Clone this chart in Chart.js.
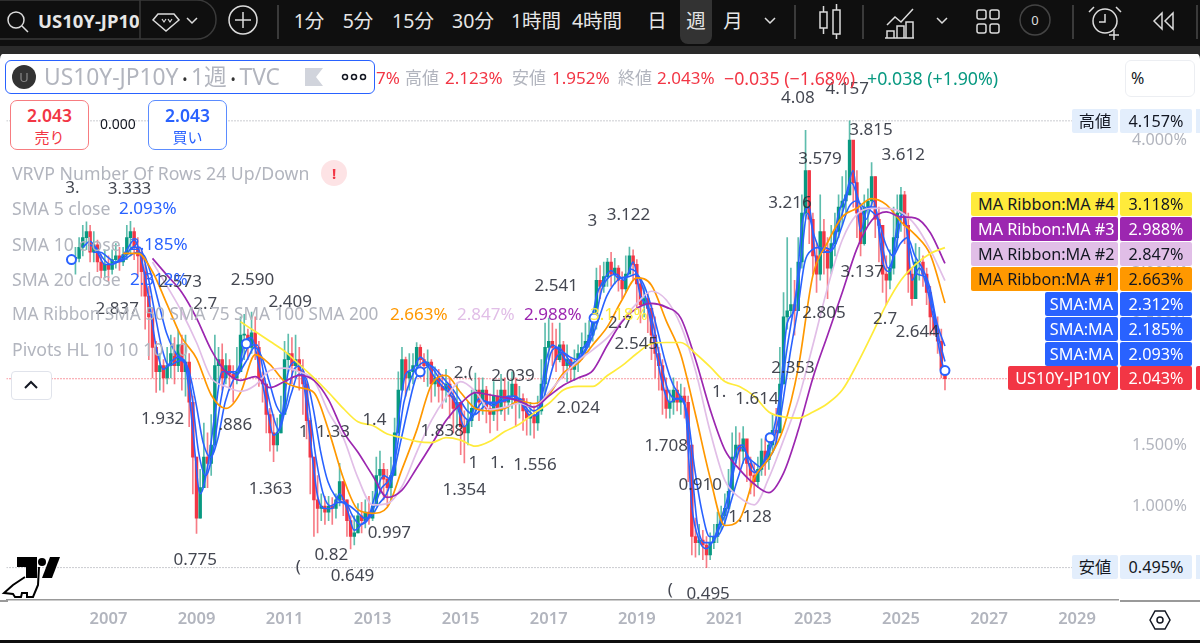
<!DOCTYPE html>
<html lang="ja"><head><meta charset="utf-8">
<script src="https://cdn.jsdelivr.net/npm/chart.js@4"></script>
<style>
html,body{margin:0;padding:0;width:1200px;height:643px;overflow:hidden;background:#fff;font-family:"Noto Sans","Noto Sans CJK JP",sans-serif}
#c{position:absolute;left:0;top:0;width:1200px;height:643px}
.a{position:absolute;white-space:nowrap}
.tb{color:#e6e6e6;font-size:19.5px;top:8px;line-height:26px;transform:translateX(-50%)}
.lg{color:#b2b5be;font-size:17.7px;line-height:22px;left:12px}
.v{font-size:17px;line-height:22px}
.o{font-size:17px;line-height:22px;top:67px}
.row{height:24px;line-height:24px;font-size:16.2px;border-radius:2px;overflow:hidden}
svg{position:absolute;overflow:visible}
</style></head><body>
<canvas id="c" width="1200" height="643"></canvas>

<div class="a" style="left:0;top:0;width:1200px;height:46px;background:#0f0f0f"></div>
<div class="a" style="left:0;top:46px;width:1200px;height:8px;background:#2a2a2a"></div>
<svg style="left:0;top:53px" width="1200" height="6"><path d="M0 0H6Q0 0 0 6ZM1200 0H1194Q1200 0 1200 6Z" fill="#2a2a2a"/></svg>
<div class="a" style="left:0;top:640px;width:1200px;height:3px;background:#0f0f0f"></div>
<div class="a" style="left:1120px;top:600px;width:80px;height:1.5px;background:#999"></div>
<div class="a" style="left:0;top:600px;width:8px;height:1.5px;background:#999"></div>

<svg style="left:0;top:0" width="1200" height="46" fill="none" stroke="#dcdcdc" stroke-width="1.5">
<rect x="-20" y="0" width="236" height="39" rx="19" stroke="#3a3a3a"/>
<line x1="140" y1="0" x2="140" y2="39" stroke="#3a3a3a"/>
<circle cx="16" cy="20" r="8"/><line x1="22" y1="26" x2="28" y2="32"/>
<path d="M158 14h16l5 6-13 11-13-11z"/><path d="M162 19l2 3 2-3M168 19l2 3 2-3" stroke-width="1.2"/>
<path d="M187 18l5 5 5-5"/>
<circle cx="243" cy="20" r="14"/><path d="M243 12v16M235 20h16"/>
<path d="M278 5v34M795 5v34M863 5v34M1073 5v34M1197 5v34" stroke="#4a4a4a"/>
<path d="M765 18l5 5 5-5M937 18l5 5 5-5"/>
<rect x="820" y="12" width="7" height="16"/><rect x="833" y="10" width="7" height="24"/><path d="M823.500 6v6M823.500 28v6M836.500 4v6M836.500 34v5"/>
<path d="M887 25l8-8 6 5 12-13M887 38v-7h7v7M897 38v-12h7v12M906 38v-16h7v16M885 38h29"/>
<rect x="977" y="10" width="9" height="9" rx="2"/><rect x="990" y="10" width="9" height="9" rx="2"/><rect x="977" y="24" width="9" height="9" rx="2"/><rect x="990" y="24" width="9" height="9" rx="2"/>
<circle cx="1035" cy="20" r="15" stroke="#444"/>
<circle cx="1105" cy="21" r="12"/><path d="M1105 14v8h-6M1094 7l-5 5M1116 7l5 5M1114 30v10M1109 35h10"/>
<path d="M1162 13l-8 8 8 8zM1173 13l-8 8 8 8z"/>
</svg>
<div class="a" style="left:38px;top:8px;font-size:18.5px;line-height:26px;font-weight:700;color:#e6e6e6;width:101px;overflow:hidden">US10Y-JP10Y</div>
<div class="a" style="left:680px;top:0;width:32px;height:44px;background:#333;border-radius:0 0 8px 8px"></div>
<div class="a tb" style="left:309px">1分</div><div class="a tb" style="left:358px">5分</div><div class="a tb" style="left:413px">15分</div><div class="a tb" style="left:473px">30分</div><div class="a tb" style="left:536px">1時間</div><div class="a tb" style="left:597px">4時間</div><div class="a tb" style="left:657px">日</div><div class="a tb" style="left:696px">週</div><div class="a tb" style="left:733px">月</div>
<div class="a" style="left:1028px;top:11px;width:14px;text-align:center;color:#ddd;font-size:13px;line-height:18px">0</div>

<div class="a" style="left:5px;top:60px;width:368px;height:32px;border:1px solid #2962ff;border-radius:6px;background:#fff"></div>
<div class="a" style="left:12px;top:65px;width:24px;height:24px;border-radius:50%;background:#333;color:#888;font-size:13px;line-height:24px;text-align:center">U</div>
<div class="a" style="left:44px;top:62px;font-size:22.8px;line-height:30px;color:#b2b5be">US10Y-JP10Y<span style="color:#333;font-size:14px"> • </span>1週<span style="color:#333;font-size:14px"> • </span>TVC</div>
<svg style="left:305px;top:68px" width="18" height="18"><path d="M0 0H18L11 9L18 18H0Z" fill="#d1d4dc"/></svg>
<svg style="left:342px;top:73px" width="24" height="8" fill="none" stroke="#131722" stroke-width="1.5"><circle cx="3" cy="4" r="2.500"/><circle cx="12" cy="4" r="2.500"/><circle cx="21" cy="4" r="2.500"/></svg>

<div class="a o" style="left:376px;color:#f23645">7%</div>
<div class="a o" style="left:405px;color:#b2b5be">高値</div><div class="a o" style="left:445px;color:#f23645">2.123%</div>
<div class="a o" style="left:512px;color:#b2b5be">安値</div><div class="a o" style="left:552px;color:#f23645">1.952%</div>
<div class="a o" style="left:618px;color:#b2b5be">終値</div><div class="a o" style="left:657px;color:#f23645">2.043%</div>
<div class="a o" style="left:724px;color:#f23645;font-size:17.8px">−0.035 (−1.68%)</div>
<div class="a o" style="left:867px;color:#089981;font-size:17.8px">+0.038 (+1.90%)</div>
<div class="a" style="left:1125px;top:60px;width:68px;height:35px;border:1px solid #eceef2;border-radius:6px;background:#fff;color:#131722;font-size:16px;line-height:35px;text-indent:5px">%</div>

<div class="a" style="left:10px;top:100px;width:77px;border:1px solid #f77c80;border-radius:7px;background:#fff;color:#f23645;text-align:center;font-size:17.5px;line-height:21px;padding-top:4px;height:44px"><b style="font-weight:600">2.043</b><br><span style="font-size:15px">売り</span></div>
<div class="a" style="left:100px;top:114px;font-size:14px;line-height:20px;color:#131722">0.000</div>
<div class="a" style="left:148px;top:100px;width:77px;border:1px solid #5b8cff;border-radius:7px;background:#fff;color:#2962ff;text-align:center;font-size:17.5px;line-height:21px;padding-top:4px;height:44px"><b style="font-weight:600">2.043</b><br><span style="font-size:15px">買い</span></div>

<div class="a lg" style="top:162px">VRVP Number Of Rows 24 Up/Down</div>
<div class="a" style="left:321px;top:160px;width:26px;height:26px;border-radius:50%;background:#fde3e5;color:#f23645;font-weight:700;font-size:15px;line-height:26px;text-align:center">!</div>
<div class="a lg" style="top:197px">SMA 5 close</div><div class="a v" style="left:119px;top:197px;color:#2962ff">2.093%</div>
<div class="a lg" style="top:233px">SMA 10 close</div><div class="a v" style="left:130px;top:233px;color:#2962ff">2.185%</div>
<div class="a lg" style="top:268px">SMA 20 close</div><div class="a v" style="left:130px;top:268px;color:#2962ff">2.312%</div>
<div class="a lg" style="top:303px;font-size:17.2px">MA Ribbon SMA 50 SMA 75 SMA 100 SMA 200</div>
<div class="a v" style="left:390px;top:303px;color:#ff9800">2.663%</div><div class="a v" style="left:457px;top:303px;color:#e1bee7">2.847%</div><div class="a v" style="left:524px;top:303px;color:#9c27b0">2.988%</div><div class="a v" style="left:590px;top:303px;color:#ffeb3b">3.118%</div>
<div class="a lg" style="top:338px">Pivots HL 10 10 10 10</div>
<div class="a" style="left:11px;top:371px;width:39px;height:27px;border:1px solid #e0e3eb;border-radius:4px;background:#fff"></div>
<svg style="left:24px;top:381px" width="14" height="8" fill="none" stroke="#131722" stroke-width="2"><path d="M1 7l6-6 6 6"/></svg>

<div class="a row" style="left:1072px;top:109px;width:46px;background:#e3eefc;color:#131722;text-align:center">高値</div>
<div class="a row" style="left:1120px;top:109px;width:72px;background:#e3eefc;color:#131722;text-align:center">4.157%</div>
<div class="a row" style="left:1072px;top:555px;width:46px;background:#e3eefc;color:#131722;text-align:center">安値</div>
<div class="a row" style="left:1120px;top:555px;width:72px;background:#e3eefc;color:#131722;text-align:center">0.495%</div>
<div class="a" style="left:1196px;top:109px;width:4px;height:24px;background:#e3eefc"></div>
<div class="a" style="left:1196px;top:555px;width:4px;height:24px;background:#e3eefc"></div>

<div class="a row" style="left:971px;top:192px;width:147px;background:#ffeb3b;color:#131722;text-indent:7px">MA Ribbon:MA #4</div><div class="a row" style="left:1120px;top:192px;width:72px;background:#ffeb3b;color:#131722;text-align:center">3.118%</div>
<div class="a row" style="left:971px;top:217px;width:147px;background:#9c27b0;color:#fff;text-indent:7px">MA Ribbon:MA #3</div><div class="a row" style="left:1120px;top:217px;width:72px;background:#9c27b0;color:#fff;text-align:center">2.988%</div>
<div class="a row" style="left:971px;top:242px;width:147px;background:#e1bee7;color:#131722;text-indent:7px">MA Ribbon:MA #2</div><div class="a row" style="left:1120px;top:242px;width:72px;background:#e1bee7;color:#131722;text-align:center">2.847%</div>
<div class="a row" style="left:971px;top:267px;width:147px;background:#ff9800;color:#131722;text-indent:7px">MA Ribbon:MA #1</div><div class="a row" style="left:1120px;top:267px;width:72px;background:#ff9800;color:#131722;text-align:center">2.663%</div>
<div class="a row" style="left:1045px;top:292px;width:73px;background:#2962ff;color:#fff;text-align:center">SMA:MA</div><div class="a row" style="left:1120px;top:292px;width:72px;background:#2962ff;color:#fff;text-align:center">2.312%</div>
<div class="a row" style="left:1045px;top:317px;width:73px;background:#2962ff;color:#fff;text-align:center">SMA:MA</div><div class="a row" style="left:1120px;top:317px;width:72px;background:#2962ff;color:#fff;text-align:center">2.185%</div>
<div class="a row" style="left:1045px;top:342px;width:73px;background:#2962ff;color:#fff;text-align:center">SMA:MA</div><div class="a row" style="left:1120px;top:342px;width:72px;background:#2962ff;color:#fff;text-align:center">2.093%</div>
<div class="a row" style="left:1008px;top:366px;width:110px;background:#f23645;color:#fff;text-align:center">US10Y-JP10Y</div><div class="a row" style="left:1120px;top:366px;width:72px;background:#f23645;color:#fff;text-align:center">2.043%</div>
<div class="a" style="left:1196px;top:366px;width:4px;height:24px;background:#f23645;border-radius:2px 0 0 2px"></div>

<svg style="left:1149px;top:610px" width="22" height="20" fill="none" stroke="#131722" stroke-width="1.500"><path d="M1 10L6 1H16L21 10L16 19H6Z"/><circle cx="11" cy="10" r="3"/></svg>
<svg style="left:0;top:552px" width="64" height="48"><path d="M17 5H37V26H26V15H17Z" fill="#000"/><circle cx="42" cy="10" r="4" fill="#000"/><path d="M50 5H60L52 26H42Z" fill="#000"/><path d="M25 25L13 33L4 41L13 42L15 45H21L22 41H27L27 45H33L38 33L39 15" fill="none" stroke="#000" stroke-width="2"/></svg>

<script>
const candleStart = 2006.25;
const closes = [
3.03,3.12,3.2,3.25,3.08,3.14,3.0,2.93,2.98,2.94,3.02,3.05,
3.0,3.06,3.2,3.25,3.12,3.05,2.92,2.72,2.55,2.3,2.1,2.15,
2.05,2.15,2.25,2.15,2.32,2.1,2.18,1.85,1.4,0.9,1.15,1.4,
1.35,1.5,2.15,2.2,2.05,2.15,2.08,2.05,2.1,2.4,2.4,2.3,
2.42,2.3,2.05,2.0,1.75,1.6,1.5,1.6,1.75,2.2,2.25,2.15,
2.2,2.1,2.0,1.7,1.4,1.05,0.98,1.0,0.95,1.0,0.98,1.05,
1.2,1.05,0.88,0.75,0.78,0.92,0.88,0.95,0.9,1.0,1.25,1.3,
1.22,1.15,1.25,1.6,1.95,2.2,2.05,2.1,2.15,2.3,2.2,2.15,
2.18,2.0,2.05,1.98,1.95,2.0,1.9,1.8,1.85,1.65,1.6,1.7,
1.8,1.95,1.85,1.95,1.8,1.75,1.9,1.78,1.95,1.85,1.9,2.0,
1.85,1.88,1.78,1.72,1.75,1.68,1.78,2.0,2.3,2.35,2.3,2.2,
2.32,2.15,2.2,2.12,2.18,2.25,2.3,2.35,2.4,2.5,2.85,2.8,
2.88,3.0,2.9,2.95,2.85,2.78,2.9,3.05,2.98,2.82,2.65,2.7,
2.62,2.4,2.25,2.15,1.95,1.8,1.85,1.95,1.85,1.9,1.85,1.5,
0.75,0.7,0.72,0.68,0.6,0.7,0.75,0.85,0.92,0.98,1.12,1.4,
1.5,1.45,1.55,1.35,1.25,1.2,1.3,1.45,1.38,1.5,1.62,1.6,
2.0,2.55,2.6,2.65,2.6,3.0,3.4,3.75,3.35,3.05,2.9,3.25,
3.1,2.95,3.15,3.25,3.45,3.5,3.55,4.0,3.65,3.4,3.15,3.45,
3.5,3.7,3.35,3.3,2.9,2.85,2.95,3.2,3.4,3.55,3.3,2.9,
2.7,3.0,3.0,2.9,2.75,2.55,2.45,2.35,2.12,2.043];
const highs = [
3.12,3.2,3.3,3.33,3.3,3.25,3.18,3.06,3.1,3.05,3.1,3.15,
3.12,3.12,3.3,3.333,3.28,3.2,3.1,2.98,2.8,2.62,2.35,2.25,
2.2,2.3,2.4,2.38,2.44,2.4,2.4,2.25,1.9,1.4,1.3,1.68,
1.6,1.75,2.4,2.3,2.33,2.25,2.2,2.15,2.3,2.55,2.57,2.45,
2.59,2.55,2.35,2.1,2.0,1.8,1.75,1.72,1.9,2.35,2.409,2.38,
2.4,2.3,2.2,2.02,1.72,1.4,1.25,1.1,1.08,1.08,1.07,1.1,
1.35,1.2,1.05,0.92,0.92,1.02,1.03,1.05,1.08,1.12,1.4,1.45,
1.35,1.3,1.4,1.72,2.1,2.3,2.22,2.25,2.25,2.34,2.32,2.25,
2.28,2.2,2.14,2.12,2.08,2.12,2.05,1.95,2.0,1.85,1.78,1.85,
1.95,2.09,2.05,2.05,1.98,1.92,2.02,1.95,2.08,2.05,2.02,2.1,
2.05,1.98,1.92,1.88,1.85,1.82,1.9,2.2,2.5,2.541,2.5,2.45,
2.5,2.35,2.32,2.22,2.28,2.32,2.42,2.5,2.52,2.6,2.95,2.97,
3.0,3.03,3.08,3.03,2.97,2.92,3.05,3.122,3.1,3.02,2.85,2.8,
2.75,2.65,2.55,2.3,2.2,2.05,1.95,2.05,2.02,2.0,1.97,1.9,
1.5,0.9,0.85,0.8,0.75,0.78,0.85,0.95,1.0,1.1,1.3,1.6,
1.65,1.6,1.65,1.52,1.4,1.35,1.4,1.55,1.55,1.6,1.75,1.8,
2.3,2.75,3.2,2.95,2.85,3.2,3.55,4.08,3.75,3.4,3.15,3.55,
3.35,3.2,3.3,3.4,3.55,3.7,3.75,4.157,3.95,3.75,3.45,3.55,
3.6,3.815,3.7,3.45,3.2,3.05,3.1,3.45,3.55,3.612,3.58,3.4,
2.95,3.15,3.12,3.05,2.95,2.8,2.6,2.55,2.45,2.123];
const lows = [
2.9,3.0,3.05,3.1,3.0,3.0,2.92,2.87,2.87,2.84,2.9,2.95,
2.93,2.97,3.02,3.05,3.02,2.88,2.72,2.45,2.2,2.05,1.93,1.95,
1.932,2.0,2.05,2.0,2.1,1.95,1.9,1.65,1.1,0.775,0.9,1.2,
1.15,1.25,1.6,2.0,1.95,2.0,1.95,1.85,2.0,2.1,2.2,2.2,
2.25,2.2,1.98,1.85,1.6,1.45,1.363,1.45,1.6,1.8,2.1,2.0,
2.05,1.95,1.75,1.55,1.1,0.75,0.78,0.88,0.85,0.88,0.85,0.9,
1.0,0.92,0.75,0.649,0.68,0.78,0.78,0.82,0.85,0.88,1.05,1.1,
1.05,1.0,1.05,1.25,1.6,1.95,1.9,1.95,2.0,2.1,2.05,2.02,
1.98,1.85,1.9,1.85,1.8,1.85,1.72,1.6,1.65,1.42,1.354,1.5,
1.65,1.75,1.7,1.75,1.68,1.6,1.7,1.62,1.75,1.7,1.75,1.8,
1.65,1.72,1.62,1.58,1.58,1.556,1.62,1.75,1.9,2.2,2.15,2.1,
2.18,2.05,2.02,2.024,2.03,2.1,2.2,2.25,2.3,2.35,2.45,2.7,
2.75,2.8,2.8,2.82,2.76,2.7,2.75,2.92,2.85,2.62,2.5,2.55,
2.42,2.2,2.05,1.95,1.75,1.72,1.72,1.75,1.78,1.75,1.72,1.2,
0.6,0.58,0.6,0.56,0.495,0.56,0.65,0.7,0.8,0.85,0.95,1.128,
1.35,1.3,1.35,1.2,1.1,1.08,1.15,1.25,1.25,1.3,1.45,1.5,
1.7,2.0,2.45,2.55,2.4,2.6,2.95,3.35,3.15,2.9,2.75,2.85,
2.9,2.7,2.9,3.05,3.2,3.3,3.4,3.55,3.45,3.2,3.05,3.137,
3.3,3.45,3.2,3.0,2.75,2.65,2.78,2.9,3.1,3.25,3.15,2.75,
2.644,2.7,2.85,2.8,2.65,2.4,2.4,2.25,2.05,1.952];

const sma5 = [null,3.12,3.17,3.08,2.98,2.98,3.02,3.1,3.18,3.02,2.7,2.3,2.12,2.18,2.22,2.15,1.62,1.1,1.32,1.75,2.1,2.1,2.08,2.33,2.38,2.15,1.85,1.58,1.68,2.1,2.18,2.05,1.55,1.08,0.98,0.98,1.1,0.98,0.8,0.85,0.92,1.12,1.25,1.22,1.7,2.08,2.12,2.22,2.15,2.05,1.98,1.92,1.82,1.65,1.75,1.88,1.85,1.82,1.88,1.9,1.9,1.82,1.74,1.75,2.15,2.32,2.27,2.18,2.15,2.28,2.38,2.72,2.85,2.93,2.87,2.87,3.0,2.72,2.62,2.3,2.0,1.85,1.88,1.85,1.0,0.72,0.65,0.73,0.9,1.1,1.45,1.5,1.3,1.27,1.4,1.58,1.9,2.5,2.62,3.3,3.45,3.0,3.12,3.1,3.4,3.55,3.75,3.25,3.45,3.45,3.0,2.92,3.3,3.4,2.85,2.95,2.8,2.52,2.2,2.093];
const sma10 = [null,null,3.14,3.12,3.03,2.98,3.0,3.04,3.12,3.12,2.92,2.6,2.3,2.15,2.18,2.2,1.95,1.45,1.25,1.45,1.85,2.1,2.1,2.2,2.32,2.32,2.05,1.78,1.62,1.85,2.12,2.15,1.85,1.4,1.1,1.0,1.03,1.03,0.92,0.85,0.88,1.0,1.15,1.22,1.45,1.85,2.05,2.15,2.18,2.12,2.03,1.97,1.88,1.75,1.7,1.8,1.86,1.84,1.85,1.88,1.9,1.86,1.78,1.74,1.95,2.25,2.3,2.24,2.17,2.22,2.32,2.5,2.78,2.88,2.9,2.85,2.94,2.88,2.7,2.48,2.18,1.95,1.88,1.88,1.45,0.85,0.7,0.7,0.82,0.98,1.3,1.48,1.4,1.28,1.35,1.48,1.7,2.2,2.58,2.95,3.4,3.2,3.08,3.08,3.25,3.45,3.65,3.5,3.35,3.5,3.2,2.95,3.1,3.4,3.1,2.9,2.88,2.65,2.35,2.185];
const sma20 = [null,null,null,3.08,3.08,3.04,3.0,3.01,3.05,3.08,3.05,2.88,2.65,2.42,2.28,2.2,2.12,1.85,1.52,1.4,1.55,1.85,2.02,2.1,2.2,2.3,2.22,2.02,1.82,1.75,1.92,2.08,2.05,1.8,1.45,1.2,1.08,1.03,1.0,0.95,0.9,0.92,1.02,1.1,1.28,1.55,1.82,2.05,2.12,2.15,2.1,2.03,1.96,1.87,1.78,1.75,1.8,1.85,1.85,1.86,1.88,1.88,1.84,1.78,1.82,2.0,2.2,2.26,2.22,2.2,2.26,2.38,2.55,2.72,2.82,2.87,2.88,2.9,2.82,2.65,2.42,2.18,2.0,1.9,1.75,1.3,0.95,0.75,0.75,0.85,1.05,1.25,1.4,1.36,1.32,1.38,1.5,1.85,2.25,2.6,3.0,3.1,3.12,3.08,3.12,3.28,3.45,3.5,3.45,3.42,3.35,3.15,3.05,3.15,3.2,3.05,2.95,2.8,2.5,2.312];

const ribbonStart = 2007;
const ma1 = [null,3.07,3.07,2.92,2.65,2.38,2.21,1.91,1.80,1.93,2.24,2.16,2.02,1.97,1.93,1.62,1.23,0.97,0.94,0.99,1.30,1.62,1.99,2.07,1.93,1.80,1.78,1.80,1.86,1.84,1.91,2.09,2.17,2.32,2.47,2.69,2.87,2.81,2.52,2.24,1.75,1.23,0.84,0.89,1.23,1.39,1.64,2.13,2.89,3.16,3.37,3.44,3.52,3.47,3.33,3.22,3.06,2.663];
const ma2 = [null,null,null,3.0,2.80,2.59,2.34,2.05,1.98,1.94,1.99,2.11,2.13,2.10,2.03,1.77,1.56,1.23,1.01,1.02,1.16,1.44,1.70,1.89,2.02,1.94,1.79,1.81,1.84,1.81,1.93,2.07,2.19,2.28,2.38,2.52,2.66,2.76,2.69,2.48,2.11,1.61,1.21,1.07,1.01,1.23,1.54,1.87,2.32,2.79,3.18,3.39,3.44,3.44,3.41,3.30,3.10,2.847];
const ma3 = [null,null,null,3.03,2.89,2.75,2.54,2.28,2.10,2.03,2.06,1.97,2.02,2.07,2.03,1.87,1.61,1.44,1.25,1.07,1.13,1.31,1.50,1.70,1.84,1.93,1.91,1.89,1.86,1.81,1.90,1.99,2.05,2.11,2.32,2.51,2.62,2.66,2.63,2.54,2.20,1.79,1.46,1.30,1.18,1.11,1.27,1.62,2.05,2.40,2.75,3.11,3.34,3.41,3.37,3.36,3.24,2.988];
const ma4 = [null,null,null,null,null,null,null,null,null,2.51,2.43,2.35,2.27,2.16,2.05,1.93,1.80,1.69,1.66,1.59,1.56,1.53,1.52,1.56,1.54,1.49,1.53,1.61,1.67,1.76,1.84,1.95,1.98,1.98,2.07,2.15,2.25,2.33,2.34,2.34,2.25,2.14,2.02,1.98,1.90,1.77,1.73,1.72,1.77,1.84,1.95,2.16,2.40,2.65,2.85,2.98,3.07,3.118];

const pivotYears = [2006.18,2007.48,2007.2,2008.63,2009.2,2010.27,2011.13,2008.23,2009.88,2010.68,2011.43,2012.1,2008.97,2011.31,2012.06,2012.54,2013.38,2013.04,2014.58,2015.06,2016.19,2015.29,2015.83,2016.69,2015.08,2017.17,2017.67,2017.99,2018.81,2018.62,2018.99,2019.67,2020.87,2021.73,2020.44,2021.57,2020.62,2019.76,2022.48,2023.16,2022.66,2023.78,2024.32,2025.05,2024.12,2023.25,2022.55,2024.64,2025.37];
const pivotValues = [3.34,3.333,2.837,2.573,2.39,2.59,2.409,1.932,1.886,1.363,1.83,1.83,0.775,0.72,0.822,0.649,0.997,1.44,1.838,1.83,1.80,1.57,1.57,1.556,1.354,2.541,2.024,3.07,3.122,2.72,2.545,1.708,1.67,1.614,0.91,1.128,0.495,0.53,3.216,3.579,4.08,4.157,3.815,3.612,3.137,2.805,2.353,2.75,2.644];
const pivotTexts = ["3.","3.333","2.837","2.573","2.7","2.590","2.409","1.932",".886","1.363","1","1.33","0.775","(","0.82","0.649","0.997","1.4","1.838","2.(","2.039","1","1.","1.556","1.354","2.541","2.024","3","3.122","2.7","2.545","1.708","1.","1.614","0.910","1.128","0.495","(","3.216","3.579","4.08","4.157","3.815","3.612","3.137","2.805","2.353","2.7","2.644"];
const pivotIsHigh = [1,1,0,1,1,1,1,0,0,0,0,0,0,0,0,0,0,1,0,1,1,0,0,0,0,1,0,1,1,0,0,0,1,1,1,0,0,0,1,1,1,1,1,1,0,0,0,0,0];

const circleYears = [2006.16,2010.13,2014.08,2018.03,2022.03,2026.0];
const circleValues = [3.02,2.33,2.10,2.54,1.56,2.11];

const lastPrice = 2.043, highPrice = 4.157, lowPrice = 0.495;
const xTicks = [2007,2009,2011,2013,2015,2017,2019,2021,2023,2025,2027,2029];
const yTicks = [0.5,1,1.5,2,2.5,3,3.5,4];

const xMin = 2004.684, xMax = 2029.93;
const yearOf = i => candleStart + i/12;
const GREEN='#089981', RED='#f23645', BLUE='#2962ff';
const opens = closes.map((c,i)=> i ? closes[i-1] : c);
const barColor = closes.map((c,i)=> c>=opens[i] ? GREEN : RED);
const wickColor = closes.map((c,i)=> c>=opens[i] ? 'rgba(8,153,129,.65)' : 'rgba(242,54,69,.65)');

const blueYear = lead => j => j>=119 ? 2026 : candleStart + j/6 - lead;
const pts = (vals, yr) => vals.map((v,j)=> v==null?null:{x:yr(j),y:v}).filter(Boolean);
const ribbonYear = k => ribbonStart + k/3;

const line = (vals,yr,color,w,t) => ({type:'line',data:pts(vals,yr),borderColor:color,borderWidth:w,pointRadius:0,tension:t,cubicInterpolationMode:t?'monotone':'default',order:2,fill:false});
const hline = (v,color) => ({type:'line',data:[{x:xMin,y:v},{x:xMax,y:v}],borderColor:color,borderWidth:1,borderDash:[1,2],pointRadius:0,order:10});

const pivotLabels = {
  id:'pivotLabels',
  afterDatasetsDraw(chart){
    const {ctx,scales:{x,y}} = chart;
    ctx.save();
    ctx.font = '17px "Noto Sans"';
    ctx.textAlign='center'; ctx.textBaseline='middle';
    ctx.fillStyle='rgba(42,46,57,.88)';
    pivotTexts.forEach((t,i)=>{
      ctx.fillText(t, x.getPixelForValue(pivotYears[i]), y.getPixelForValue(pivotValues[i]) + (pivotIsHigh[i] ? -32 : 27));
    });
    ctx.restore();
  }
};

new Chart(document.getElementById('c'),{
  data:{datasets:[
    hline(highPrice,'#9598a1'), hline(lowPrice,'#9598a1'), hline(lastPrice,'#f23645'),
    {type:'bar',data:closes.map((c,i)=>({x:yearOf(i),y:[lows[i],highs[i]]})),backgroundColor:wickColor,barThickness:1,grouped:false,order:6},
    {type:'bar',data:closes.map((c,i)=>({x:yearOf(i),y:[Math.min(opens[i],c),Math.max(opens[i],c)]})),backgroundColor:barColor,barThickness:2.8,grouped:false,minBarLength:1,order:5},
    line(ma4,ribbonYear,'#ffeb3b',1.7,.4),
    line(ma3,ribbonYear,'#9c27b0',1.7,.4),
    line(ma2,ribbonYear,'#e1bee7',1.7,.4),
    line(ma1,ribbonYear,'#ff9800',1.7,.4),
    line(sma20,blueYear(.1),BLUE,1.6,.2),
    line(sma10,blueYear(.04),BLUE,1.6,.2),
    line(sma5,blueYear(0),BLUE,1.6,.2),
    {type:'scatter',data:circleYears.map((t,i)=>({x:t,y:circleValues[i]})),pointRadius:4.5,pointBorderWidth:2,pointBorderColor:BLUE,pointBackgroundColor:'#fff',order:1}
  ]},
  options:{
    responsive:false,animation:false,devicePixelRatio:1,
    layout:{padding:{top:53,left:0,right:0,bottom:3}},
    plugins:{legend:{display:false},tooltip:{enabled:false}},
    scales:{
      x:{type:'linear',offset:false,min:xMin,max:xMax,
        grid:{display:false,drawTicks:false},
        border:{color:'#999',width:1.5},
        afterBuildTicks(s){s.ticks=xTicks.map(v=>({value:v}));},
        afterFit(s){s.height=40;s.paddingLeft=0;s.paddingRight=0;},
        ticks:{autoSkip:false,maxRotation:0,padding:9,color:'#b2b5be',font:{family:'"Noto Sans"',size:16.5,weight:'600'},callback:v=>String(v)}},
      y:{type:'linear',position:'right',min:0.2295,max:4.713,
        grid:{display:false,drawTicks:false},border:{display:false},
        afterBuildTicks(s){s.ticks=yTicks.map(v=>({value:v}));},
        afterFit(s){s.width=82;s.paddingTop=0;s.paddingBottom=0;},
        ticks:{autoSkip:false,crossAlign:'near',padding:14,color:'#b2b5be',font:{family:'"Noto Sans"',size:16.2},callback:v=>v.toFixed(3)+'%'}}
    }
  },
  plugins:[pivotLabels]
});
</script>
</body></html>
